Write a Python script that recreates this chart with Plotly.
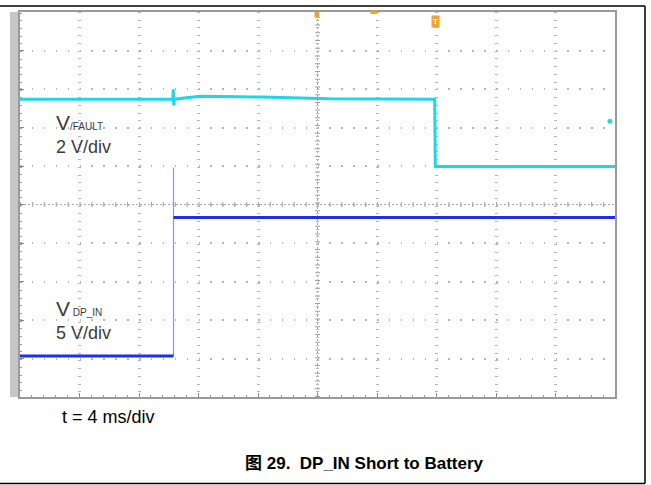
import plotly.graph_objects as go

# time axis: 4 ms/div, 10 divisions, trigger near the 7th division
t_range = [-28, 12]

# V(/FAULT), 2 V/div (cyan)
fault_t = [-28, -17.72, -17.70, -17.66, -17.62, -17.2, -15.9, -11.7, -7.2, -0.12, -0.08, 12]
fault_v = [3.53, 3.53, 4.05, 3.2, 3.53, 3.56, 3.68, 3.64, 3.55, 3.53, 0.03, 0.03]

# V(DP_IN), 5 V/div (blue)
dp_low_t = [-28, -17.68]
dp_low_v = [0.03, 0.03]
dp_edge_t = [-17.68, -17.68]
dp_edge_v = [0.03, 24.5]
dp_high_t = [-17.68, 12]
dp_high_v = [18.0, 18.0]

trig_level = 2.38

CYAN = "#1fd6e3"
BLUE = "#1f2fe6"
FONT = "Liberation Sans, Arial, Noto Sans CJK SC, sans-serif"

fig = go.Figure()

fig.add_trace(go.Scatter(x=fault_t, y=fault_v, mode="lines",
                         line=dict(color=CYAN, width=3), yaxis="y"))
fig.add_trace(go.Scatter(x=dp_edge_t, y=dp_edge_v, mode="lines",
                         line=dict(color="#8593f2", width=1.2), yaxis="y2"))
fig.add_trace(go.Scatter(x=dp_low_t, y=dp_low_v, mode="lines",
                         line=dict(color=BLUE, width=3), yaxis="y2"))
fig.add_trace(go.Scatter(x=dp_high_t, y=dp_high_v, mode="lines",
                         line=dict(color=BLUE, width=3), yaxis="y2"))

# ground / trigger markers
fig.add_trace(go.Scatter(x=[t_range[0] - 0.4], y=[0], mode="markers", cliponaxis=False,
                         marker=dict(symbol="circle", size=9, color=CYAN), yaxis="y"))
fig.add_trace(go.Scatter(x=[t_range[0] - 0.45], y=[0], mode="markers", cliponaxis=False,
                         marker=dict(symbol="square", size=6, color="#9fb0f5"), yaxis="y2"))
fig.add_trace(go.Scatter(x=[11.66], y=[trig_level], mode="markers",
                         marker=dict(symbol="circle", size=5, color=CYAN), yaxis="y"))

grid = "#b4b4b4"
fig.update_layout(
    width=651, height=485,
    margin=dict(l=20, r=36, t=10, b=88),
    paper_bgcolor="white", plot_bgcolor="white",
    showlegend=False,
    hovermode=False,
    font=dict(family=FONT, color="#3c3c3c"),
    xaxis=dict(range=t_range, tick0=-28, dtick=4, showticklabels=False,
               showgrid=True, gridcolor=grid, gridwidth=3, griddash="1px,6.74px",
               zeroline=False, showline=True, linecolor="#9a9a9a", linewidth=2, mirror=True,
               ticks="inside", ticklen=4, tickcolor="#888",
               minor=dict(dtick=0.8, ticks="inside", ticklen=2, tickcolor="#999")),
    yaxis=dict(range=[-11.94, 8.06], tick0=-11.94, dtick=2, showticklabels=False,
               showgrid=True, gridcolor=grid, gridwidth=1.5, griddash="1.5px,10.4px",
               zeroline=False, showline=True, linecolor="#9a9a9a", linewidth=2, mirror=True,
               ticks="inside", ticklen=4, tickcolor="#888",
               minor=dict(dtick=0.4, ticks="inside", ticklen=2, tickcolor="#999")),
    yaxis2=dict(range=[-5.3, 44.7], overlaying="y", showgrid=False, zeroline=False,
                showticklabels=False, visible=False),
)

shapes = [
    # left gray bar of the scope screen
    dict(type="rect", xref="paper", yref="paper", x0=-0.0168, x1=0, y0=0, y1=1,
         fillcolor="#c6c6c6", line_width=0, layer="below"),
    # centre cross with dense dots
    dict(type="line", xref="paper", yref="paper", x0=0, x1=1, y0=0.5, y1=0.5,
         line=dict(color="#a8a8a8", width=1, dash="2px,2px"), layer="below"),
    dict(type="line", xref="paper", yref="paper", x0=0, x1=1, y0=0.5, y1=0.5,
         line=dict(color="#a0a0a0", width=5, dash="1px,10.9px"), layer="below"),
    dict(type="line", xref="paper", yref="paper", x0=0.5, x1=0.5, y0=0, y1=1,
         line=dict(color="#a8a8a8", width=1, dash="2px,2px"), layer="below"),
    dict(type="line", xref="paper", yref="paper", x0=0.5, x1=0.5, y0=0, y1=1,
         line=dict(color="#a0a0a0", width=5, dash="1px,6.74px"), layer="below"),
    # small orange markers on top edge
    dict(type="rect", xref="paper", yref="paper", x0=0.495, x1=0.503, y0=0.987, y1=1.0,
         fillcolor="#f0a030", line_width=0),
    dict(type="rect", xref="paper", yref="paper", x0=0.589, x1=0.600, y0=0.995, y1=1.004,
         fillcolor="#f0a030", line_width=0),
    # outer document frame
    dict(type="line", xref="paper", yref="paper", x0=-0.04, x1=1.0504, y0=1.0155, y1=1.0155,
         line=dict(color="black", width=1.5)),
    dict(type="line", xref="paper", yref="paper", x0=1.0504, x1=1.0504, y0=1.0155, y1=-0.2248,
         line=dict(color="black", width=1.5)),
    dict(type="line", xref="paper", yref="paper", x0=-0.04, x1=1.0504, y0=-0.2248, y1=-0.2248,
         line=dict(color="black", width=1.5)),
]
fig.update_layout(shapes=shapes)


def px(x):
    return (x - 20) / 595


def py(y):
    return (397 - y) / 387


ann = [
    dict(x=px(54), y=py(133),
         text="<span style='font-size:21px'>V</span><span style='font-size:10px'>/FAULT</span>"
              "<br>2 V/div", font=dict(size=18)),
    dict(x=px(54), y=py(320),
         text="<span style='font-size:21px'>V</span><span style='font-size:10px'> DP_IN</span>"
              "<br>5 V/div", font=dict(size=18)),
    dict(x=px(60), y=py(417), text="t = 4 ms/div", font=dict(size=18, color="black")),
]
for a in ann:
    fig.add_annotation(xref="paper", yref="paper", xanchor="left", yanchor="middle",
                       align="left", showarrow=False, **a)

fig.add_annotation(xref="paper", yref="paper", x=px(364), y=py(464), xanchor="center",
                   yanchor="middle", showarrow=False,
                   text="<b>图 29.  DP_IN Short to Battery</b>",
                   font=dict(size=17, color="black"))
fig.add_annotation(xref="paper", yref="paper", x=px(435), y=py(20), xanchor="center",
                   yanchor="middle", showarrow=False, text="<b>T</b>",
                   font=dict(size=8, color="white"), bgcolor="#f5a030", borderpad=1)

fig.write_html("out.html", config={"displayModeBar": False},
               post_script="document.body.style.margin='0';")
